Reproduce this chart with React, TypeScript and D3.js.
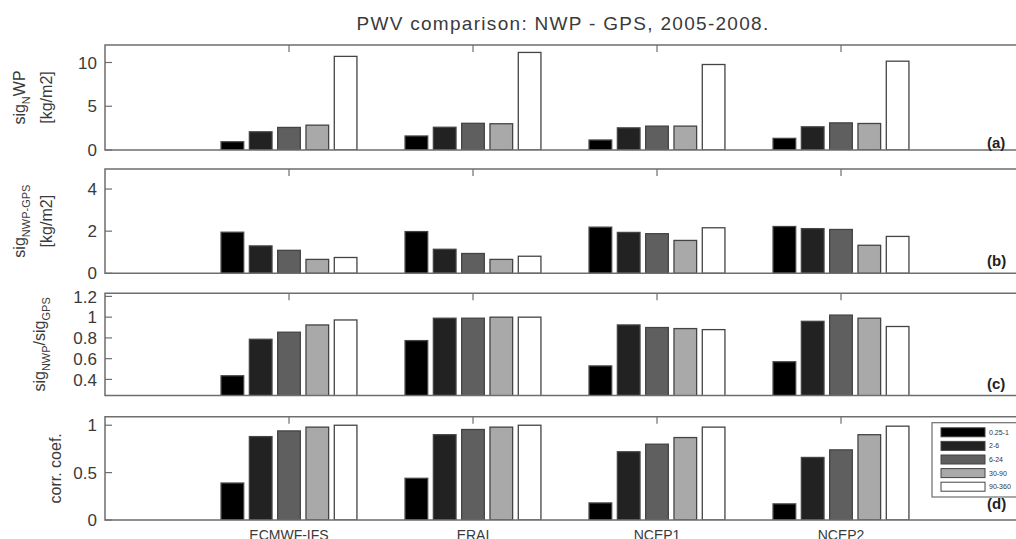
import React, { useRef, useEffect } from "react";
import * as d3 from "d3";

const models = ["ECMWF-IFS", "ERAI", "NCEP1", "NCEP2"];
const periods = ["0.25-1", "2-6", "6-24", "30-90", "90-360"];
const periodColors = ["#000000", "#222222", "#5f5f5f", "#a9a9a9", "#ffffff"];

// rows = models, columns = periods
const sigNwp = [
  [0.94, 2.08, 2.58, 2.84, 10.7],
  [1.6, 2.6, 3.05, 3.0, 11.15],
  [1.14, 2.53, 2.73, 2.73, 9.77],
  [1.33, 2.65, 3.1, 3.03, 10.15],
];
const sigNwpGps = [
  [1.95, 1.3, 1.09, 0.66, 0.75],
  [1.98, 1.14, 0.94, 0.66, 0.81],
  [2.19, 1.94, 1.88, 1.56, 2.16],
  [2.22, 2.12, 2.08, 1.33, 1.75],
];
const sigRatio = [
  [0.435, 0.787, 0.855, 0.925, 0.973],
  [0.774, 0.99, 0.99, 1.0, 1.0],
  [0.53, 0.925, 0.9, 0.89, 0.88],
  [0.57, 0.96, 1.02, 0.99, 0.91],
];
const corrCoef = [
  [0.39, 0.88, 0.94, 0.98, 1.0],
  [0.44, 0.9, 0.955, 0.98, 1.0],
  [0.18, 0.72, 0.8, 0.87, 0.98],
  [0.17, 0.66, 0.74, 0.9, 0.99],
];

const ticksA = [0, 5, 10];
const ticksB = [0, 2, 4];
const ticksC = [0.4, 0.6, 0.8, 1, 1.2];
const ticksD = [0, 0.5, 1];

const title = "PWV comparison: NWP - GPS, 2005-2008.";

type Piece = [string, boolean];
type Panel = {
  values: number[][];
  domain: [number, number];
  ticks: number[];
  top: number;
  bottom: number;
  label: { pieces: Piece[]; bx: number }[];
  letter: string;
  letterY: number;
};

const panels: Panel[] = [
  {
    values: sigNwp,
    domain: [0, 12],
    ticks: ticksA,
    top: 45,
    bottom: 150,
    label: [
      { pieces: [["sig", false], ["N", true], ["WP", false]], bx: 25 },
      { pieces: [["[kg/m2]", false]], bx: 52 },
    ],
    letter: "(a)",
    letterY: 148,
  },
  {
    values: sigNwpGps,
    domain: [0, 4.95],
    ticks: ticksB,
    top: 169,
    bottom: 273.3,
    label: [
      { pieces: [["sig", false], ["NWP-GPS", true]], bx: 25 },
      { pieces: [["[kg/m2]", false]], bx: 52 },
    ],
    letter: "(b)",
    letterY: 266,
  },
  {
    values: sigRatio,
    domain: [0.245, 1.23],
    ticks: ticksC,
    top: 293.3,
    bottom: 395.5,
    label: [
      {
        pieces: [["sig", false], ["NWP", true], ["/sig", false], ["GPS", true]],
        bx: 45,
      },
    ],
    letter: "(c)",
    letterY: 389,
  },
  {
    values: corrCoef,
    domain: [0, 1.09],
    ticks: ticksD,
    top: 416.7,
    bottom: 520,
    label: [{ pieces: [["corr. coef.", false]], bx: 61 }],
    letter: "(d)",
    letterY: 509,
  },
];

const W = 1016;
const H = 539;
const FONT = "'Liberation Sans', Arial, Helvetica, sans-serif";
const AXIS = "#6e6e6e";
const TEXT = "#3a3a3a";

function PwvChart() {
  const svgRef = useRef<SVGSVGElement>(null);

  useEffect(() => {
    if (!svgRef.current) return;
    const svg = d3.select(svgRef.current);
    svg.selectAll("*").remove();

    const x = d3.scaleLinear().domain([0, 5]).range([105, 1025]);
    const groupW = Math.min(0.8, periods.length / (periods.length + 1.5));
    const inner = d3
      .scaleBand<string>()
      .domain(periods)
      .range([-groupW / 2, groupW / 2])
      .paddingInner(0.2)
      .paddingOuter(0.1);
    const barW = x(inner.bandwidth()) - x(0);

    svg
      .append("text")
      .attr("x", 563)
      .attr("y", 30)
      .attr("text-anchor", "middle")
      .attr("font-size", 19)
      .attr("letter-spacing", 1.3)
      .attr("fill", TEXT)
      .text(title);

    panels.forEach((p, pi) => {
      const y = d3.scaleLinear().domain(p.domain).range([p.bottom, p.top]);
      const g = svg.append("g");
      const clipId = `clip-${pi}`;
      g.append("clipPath")
        .attr("id", clipId)
        .append("rect")
        .attr("x", x(0))
        .attr("y", p.top)
        .attr("width", x(5) - x(0))
        .attr("height", p.bottom - p.top);

      const bars = g.append("g").attr("clip-path", `url(#${clipId})`);
      p.values.forEach((row, mi) => {
        bars
          .selectAll(`rect.m${mi}`)
          .data(row)
          .join("rect")
          .attr("class", `m${mi}`)
          .attr("x", (_, j) => x(mi + 1 + (inner(periods[j]) as number)))
          .attr("width", barW)
          .attr("y", (d) => y(d))
          .attr("height", (d) => y(0) - y(d))
          .attr("fill", (_, j) => periodColors[j])
          .attr("stroke", "#444")
          .attr("stroke-width", 1.3);
      });

      // axes frame (right side falls outside the picture)
      g.append("path")
        .attr("d", `M${x(5)},${p.top}H${x(0)}V${p.bottom}H${x(5)}`)
        .attr("fill", "none")
        .attr("stroke", AXIS)
        .attr("stroke-width", 1.5);

      // category ticks at top
      g.selectAll("line.xt")
        .data(models)
        .join("line")
        .attr("x1", (_, i) => x(i + 1))
        .attr("x2", (_, i) => x(i + 1))
        .attr("y1", p.top)
        .attr("y2", p.top + 7)
        .attr("stroke", AXIS)
        .attr("stroke-width", 1.2);

      // y ticks
      g.selectAll("line.yt")
        .data(p.ticks)
        .join("line")
        .attr("x1", x(0))
        .attr("x2", x(0) + 7)
        .attr("y1", (d) => y(d))
        .attr("y2", (d) => y(d))
        .attr("stroke", AXIS)
        .attr("stroke-width", 1.2);

      g.selectAll("text.yl")
        .data(p.ticks)
        .join("text")
        .attr("x", 97)
        .attr("y", (d) => y(d))
        .attr("dy", "0.36em")
        .attr("text-anchor", "end")
        .attr("font-size", 17)
        .attr("fill", TEXT)
        .text((d) => String(d));

      // y label
      const cy = (p.top + p.bottom) / 2;
      p.label.forEach((line) => {
        const t = g
          .append("text")
          .attr("transform", `translate(${line.bx},${cy}) rotate(-90)`)
          .attr("text-anchor", "middle")
          .attr("font-size", 16)
          .attr("fill", TEXT);
        let sub = false;
        line.pieces.forEach(([s, isSub]) => {
          const ts = t.append("tspan").text(s);
          if (isSub && !sub) ts.attr("dy", 5).attr("font-size", 11);
          else if (isSub) ts.attr("font-size", 11);
          else if (!isSub && sub) ts.attr("dy", -5);
          sub = isSub;
        });
      });

      g.append("text")
        .attr("x", 987)
        .attr("y", p.letterY)
        .attr("font-size", 15)
        .attr("font-weight", "bold")
        .attr("fill", "#222")
        .text(p.letter);
    });

    // category labels
    svg
      .selectAll("text.cat")
      .data(models)
      .join("text")
      .attr("x", (_, i) => x(i + 1))
      .attr("y", 540)
      .attr("text-anchor", "middle")
      .attr("font-size", 14)
      .attr("fill", TEXT)
      .text((d) => d);

    // legend
    const leg = svg.append("g");
    leg
      .append("rect")
      .attr("x", 932)
      .attr("y", 422.7)
      .attr("width", 100)
      .attr("height", 74.3)
      .attr("fill", "#fff")
      .attr("stroke", AXIS)
      .attr("stroke-width", 1.2);
    const ly = d3.scalePoint<string>().domain(periods).range([432.3, 486.7]);
    leg
      .selectAll("rect.sw")
      .data(periods)
      .join("rect")
      .attr("x", 941)
      .attr("y", (d) => (ly(d) as number) - 4.5)
      .attr("width", 44)
      .attr("height", 9)
      .attr("fill", (_, j) => periodColors[j])
      .attr("stroke", "#444")
      .attr("stroke-width", 1);
    leg
      .selectAll("text.lt")
      .data(periods)
      .join("text")
      .attr("x", 989)
      .attr("y", (d) => ly(d) as number)
      .attr("dy", "0.35em")
      .attr("font-size", 7)
      .attr("fill", "#333")
      .text((d) => d);
  }, []);

  return (
    <svg
      ref={svgRef}
      width={W}
      height={H}
      style={{ position: "absolute", left: 0, top: 0, background: "#fff", fontFamily: FONT }}
    />
  );
}

export default function App() {
  return <PwvChart />;
}
